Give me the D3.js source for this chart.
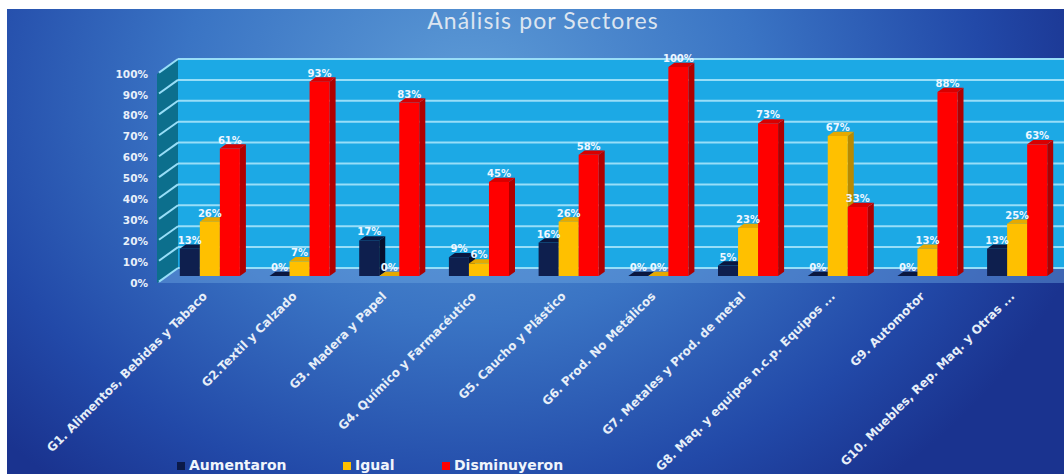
<!DOCTYPE html>
<html>
<head>
<meta charset="utf-8">
<script src="https://cdn.jsdelivr.net/npm/d3@7"></script>
<style>
  html, body { margin: 0; padding: 0; background: #ffffff; }
  svg { display: block; }
</style>
</head>
<body>
<svg id="chart" width="1064" height="474"></svg>
<script>
// ---- data ----
const categories = [
  "G1. Alimentos, Bebidas y Tabaco",
  "G2.Textil y Calzado",
  "G3. Madera y Papel",
  "G4. Químico y Farmacéutico",
  "G5. Caucho y Plástico",
  "G6. Prod. No Metálicos",
  "G7. Metales y Prod. de metal",
  "G8. Maq. y equipos n.c.p. Equipos ...",
  "G9. Automotor",
  "G10. Muebles, Rep. Maq. y Otras ..."
];
const seriesNames = ["Aumentaron", "Igual", "Disminuyeron"];
const aumentaron   = [13, 0, 17, 9, 16, 0, 5, 0, 0, 13];
const igual        = [26, 7, 0, 6, 26, 0, 23, 67, 13, 25];
const disminuyeron = [61, 93, 83, 45, 58, 100, 73, 33, 88, 63];
const yTicks = [0, 10, 20, 30, 40, 50, 60, 70, 80, 90, 100];
const chartTitle = "Análisis por Sectores";

const seriesValues = [aumentaron, igual, disminuyeron];
const palette = {
  Aumentaron:   { front: "#0e1f4e", side: "#070f2c", top: "#0a1740" },
  Igual:        { front: "#ffc000", side: "#b98a00", top: "#e6a900" },
  Disminuyeron: { front: "#ff0000", side: "#b00000", top: "#d80000" }
};

// ---- layout ----
const W = 1064, H = 474;
const svg = d3.select("#chart");

// 3D depth of the floor / side wall
const depthX = 21, depthY = -15;
const frontLeft = 157;
const barDX = 6, barDY = -4.3;

const yFront = d3.scaleLinear().domain([0, 100]).range([283, 74]);
const yBack  = v => yFront(v) + depthY;
const yBar   = d3.scaleLinear().domain([0, 100]).range([276, 67]);

const x0 = d3.scaleBand().domain(categories).range([165, 1062])
  .paddingInner(0.33).paddingOuter(0.165);
const x1 = d3.scaleBand().domain(seriesNames).range([0, x0.bandwidth()]);

// ---- background ----
const defs = svg.append("defs");
const bg = defs.append("radialGradient").attr("id", "bgGrad")
  .attr("gradientUnits", "userSpaceOnUse")
  .attr("cx", 470).attr("cy", 90).attr("r", 640)
  .attr("gradientTransform", "translate(470,90) scale(1,0.8) translate(-470,-90)");
bg.append("stop").attr("offset", "0").attr("stop-color", "#5d9bd6");
bg.append("stop").attr("offset", "0.45").attr("stop-color", "#3a74c4");
bg.append("stop").attr("offset", "0.8").attr("stop-color", "#2249a8");
bg.append("stop").attr("offset", "1").attr("stop-color", "#1a338f");

svg.append("rect").attr("width", W).attr("height", H).attr("fill", "#ffffff");
svg.append("rect").attr("x", 7).attr("y", 9).attr("width", W - 7).attr("height", H - 9)
  .attr("fill", "url(#bgGrad)");

// ---- title ----
svg.append("text")
  .attr("x", 543).attr("y", 29)
  .attr("text-anchor", "middle")
  .attr("font-family", "Lato, 'Open Sans', sans-serif")
  .attr("font-size", 23)
  .attr("letter-spacing", 1.1)
  .attr("fill", "#dce5f0")
  .text(chartTitle);

// ---- walls and floor ----
const wallX0 = frontLeft + depthX;
const poly = pts => pts.map(p => p.join(",")).join(" ");

// floor
svg.append("polygon")
  .attr("points", poly([[frontLeft, yFront(0)], [wallX0, yBack(0)], [W, yBack(0)], [W, yFront(0)]]))
  .attr("fill", "#6aa3e0").attr("fill-opacity", 0.45);

// back wall
svg.append("rect")
  .attr("x", wallX0).attr("y", yBack(100))
  .attr("width", W - wallX0).attr("height", yBack(0) - yBack(100))
  .attr("fill", "#1ca9e5");

// side wall
svg.append("polygon")
  .attr("points", poly([[frontLeft, yFront(100)], [wallX0, yBack(100)], [wallX0, yBack(0)], [frontLeft, yFront(0)]]))
  .attr("fill", "#0c6f8d");

// gridlines on both walls
const grid = svg.append("g").attr("stroke", "#98def8").attr("stroke-width", 2).attr("fill", "none");
yTicks.forEach(t => {
  grid.append("line")
    .attr("x1", frontLeft + 2).attr("y1", yFront(t) - 1.4)
    .attr("x2", wallX0).attr("y2", yBack(t));
  grid.append("line")
    .attr("x1", wallX0).attr("y1", yBack(t))
    .attr("x2", W).attr("y2", yBack(t));
});

// ---- y axis labels ----
svg.append("g")
  .selectAll("text").data(yTicks).join("text")
  .attr("x", 148).attr("y", d => yFront(d))
  .attr("dy", "0.35em")
  .attr("text-anchor", "end")
  .attr("font-family", "'DejaVu Sans', sans-serif")
  .attr("font-weight", "bold")
  .attr("font-size", 10.5)
  .attr("fill", "#e8f0fa")
  .text(d => d + "%");

// ---- bars ----
const barsG = svg.append("g");
categories.forEach((cat, i) => {
  seriesNames.forEach((s, j) => {
    const v = seriesValues[j][i];
    const bx = x0(cat) + x1(s);
    const bw = x1.bandwidth();
    const yt = yBar(v), yb = yBar(0);
    const c = palette[s];
    barsG.append("polygon")
      .attr("points", poly([[bx + bw, yt], [bx + bw + barDX, yt + barDY], [bx + bw + barDX, yb + barDY], [bx + bw, yb]]))
      .attr("fill", c.side);
    barsG.append("polygon")
      .attr("points", poly([[bx, yt], [bx + barDX, yt + barDY], [bx + bw + barDX, yt + barDY], [bx + bw, yt]]))
      .attr("fill", c.top);
    barsG.append("rect")
      .attr("x", bx).attr("y", yt)
      .attr("width", bw).attr("height", yb - yt)
      .attr("fill", c.front);
  });
});

// ---- value labels ----
const labelsG = svg.append("g")
  .attr("font-family", "'DejaVu Sans', sans-serif")
  .attr("font-weight", "bold")
  .attr("font-size", 10)
  .attr("fill", "#eef6ff")
  .attr("text-anchor", "middle");
categories.forEach((cat, i) => {
  seriesNames.forEach((s, j) => {
    const v = seriesValues[j][i];
    labelsG.append("text")
      .attr("x", x0(cat) + x1(s) + x1.bandwidth() / 2)
      .attr("y", yBar(v) - 5)
      .text(v + "%");
  });
});

// ---- category labels ----
svg.append("g")
  .selectAll("text").data(categories).join("text")
  .attr("transform", d => `translate(${x0(d) + x0.bandwidth() / 2 - 2},${297}) rotate(-45)`)
  .attr("text-anchor", "end")
  .attr("font-family", "'DejaVu Sans', sans-serif")
  .attr("font-weight", "bold")
  .attr("font-size", 12)
  .attr("fill", "#e6eef8")
  .text(d => d);

// ---- legend ----
const legendX = [177, 343, 442];
const legend = svg.append("g");
seriesNames.forEach((s, j) => {
  legend.append("rect")
    .attr("x", legendX[j]).attr("y", 462)
    .attr("width", 8).attr("height", 8)
    .attr("fill", s === "Aumentaron" ? "#0b1a48" : palette[s].front);
  legend.append("text")
    .attr("x", legendX[j] + 12).attr("y", 470)
    .attr("font-family", "'DejaVu Sans', sans-serif")
    .attr("font-weight", "bold")
    .attr("font-size", 14)
    .attr("fill", "#f0f5fc")
    .text(s);
});
</script>
</body>
</html>
